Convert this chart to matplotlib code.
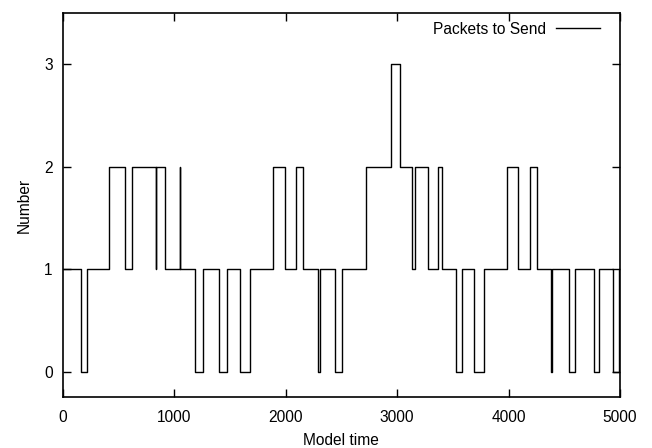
import matplotlib
matplotlib.use("Agg")
import matplotlib.pyplot as plt

plt.rcParams['font.family'] = ['Liberation Sans', 'DejaVu Sans']

# Change points (model time) and the number of packets from that time on
times = [0, 166, 217, 420, 563, 623, 836, 840, 922, 1054, 1058, 1185, 1263,
         1406, 1478, 1592, 1682, 1885, 1996, 2091, 2160, 2289, 2309, 2441,
         2510, 2722, 2943, 3027, 3137, 3159, 3274, 3370, 3404, 3532, 3580,
         3693, 3783, 3989, 4088, 4193, 4255, 4382, 4394, 4540, 4596, 4766,
         4807, 4940, 4991, 5000]
packets = [1, 0, 1, 2, 1, 2, 1, 2, 1, 2, 1, 0, 1,
           0, 1, 0, 1, 2, 1, 2, 1, 0, 1, 0,
           1, 2, 3, 2, 1, 2, 1, 2, 1, 0, 1,
           0, 1, 2, 1, 2, 1, 0, 1, 0, 1, 0,
           1, 0, 1, 1]
xticks = [0, 1000, 2000, 3000, 4000, 5000]
yticks = [0, 1, 2, 3]

FS = 11.2

fig = plt.figure(figsize=(6.52, 4.48), dpi=100)
ax = fig.add_axes([0.0959, 0.113, 0.951 - 0.0959, 0.971 - 0.113])

ax.plot(times, packets, drawstyle='steps-post', color='black', lw=1.0,
        label='Packets to Send')

ax.set_xlim(0, 5000)
ax.set_ylim(-0.25, 3.5)
ax.set_xticks(xticks)
ax.set_yticks(yticks)
ax.tick_params(direction='in', top=True, right=True, length=6, width=1,
               labelsize=FS)
ax.tick_params(axis='x', pad=9)
ax.tick_params(axis='y', pad=7)
for s in ax.spines.values():
    s.set_linewidth(1.2)

ax.set_xlabel('Model time', fontsize=FS, labelpad=5.5)
ax.set_ylabel('Number', fontsize=FS, labelpad=9)

leg = ax.legend(loc='upper right', frameon=False, markerfirst=False,
                fontsize=FS, handlelength=2.85, handletextpad=0.65,
                borderaxespad=0.0, borderpad=0.55,
                bbox_to_anchor=(1 - 11 / 557.5, 1.0))

fig.savefig('out.png', dpi=100)
